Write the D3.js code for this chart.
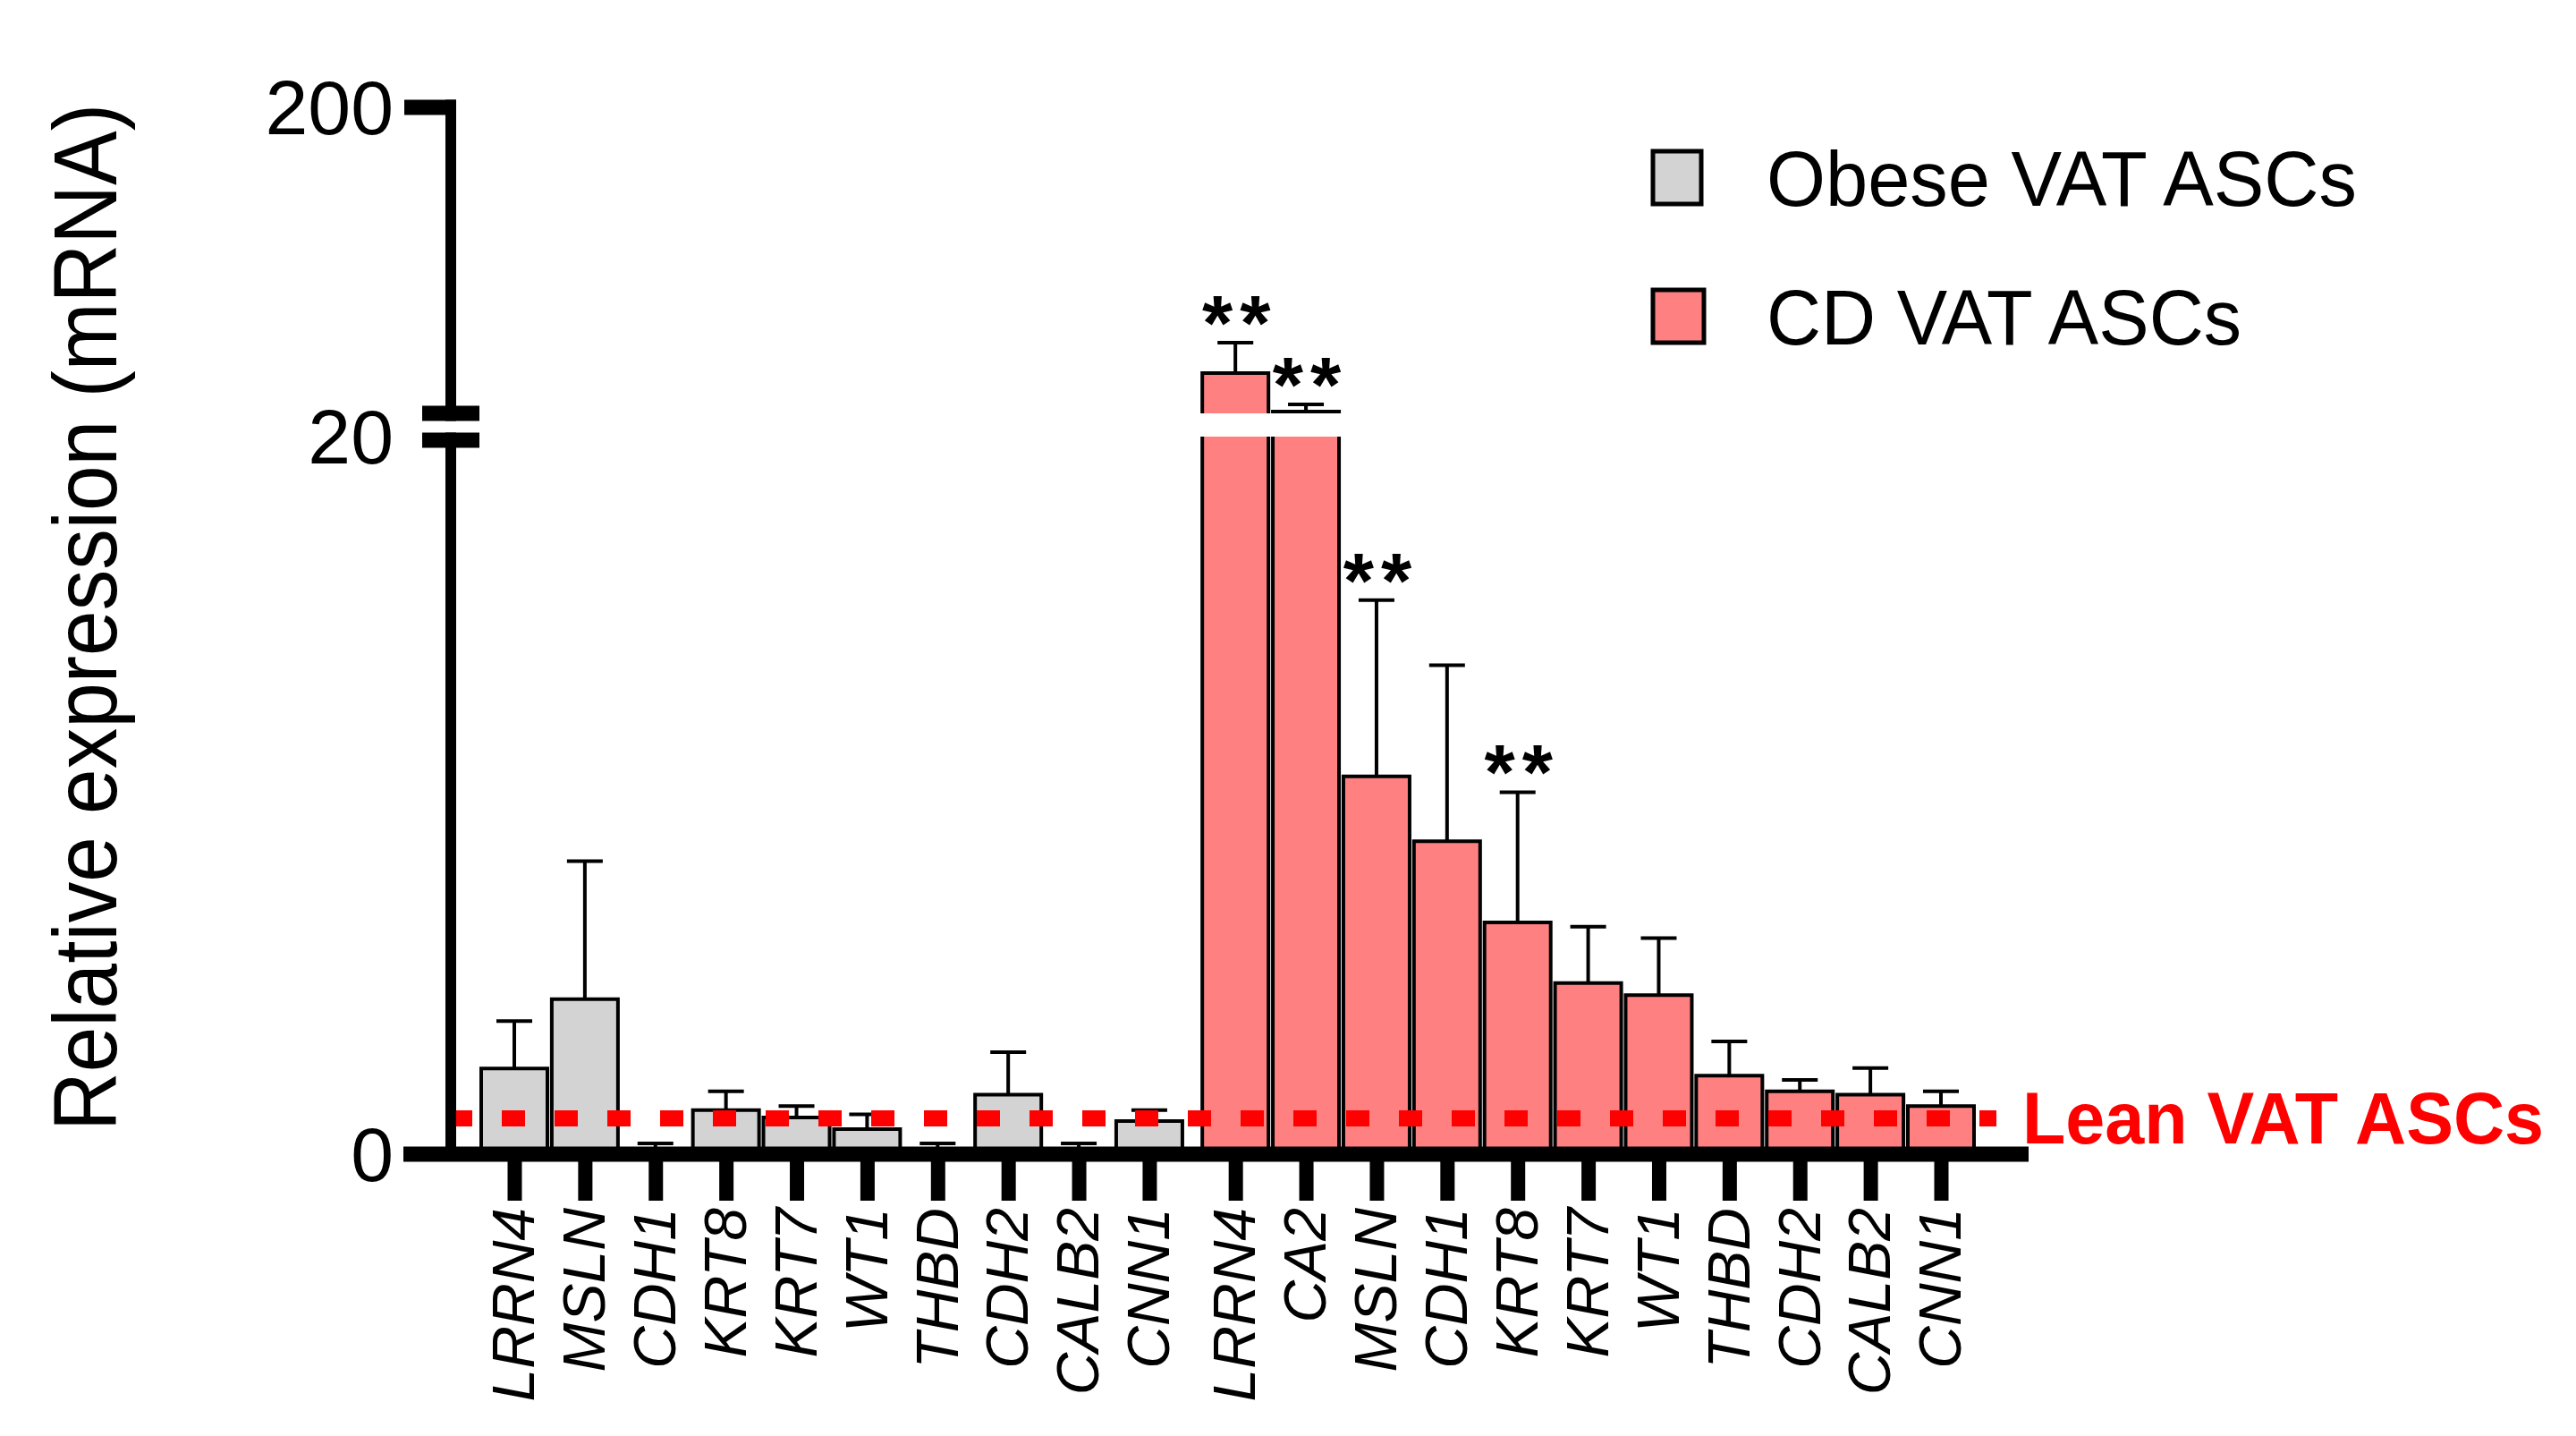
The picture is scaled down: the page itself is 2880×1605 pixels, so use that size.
<!DOCTYPE html>
<html>
<head>
<meta charset="utf-8">
<script src="https://cdn.jsdelivr.net/npm/d3@7"></script>
<style>
  body { margin: 0; background: #fff; }
  text { font-family: "Liberation Sans", Arial, sans-serif; }
</style>
</head>
<body>
<svg id="chart" width="2880" height="1605"></svg>
<script>
/* broken-axis bar chart, obese vs CD VAT ASCs */

const obeseGenes = ["LRRN4", "MSLN", "CDH1", "KRT8", "KRT7", "WT1", "THBD", "CDH2", "CALB2", "CNN1"]
const obeseMean = [2.39, 4.32, 0.1, 1.23, 1.02, 0.70, 0.1, 1.66, 0.1, 0.92]
const obeseSem = [1.32, 3.85, 0.2, 0.52, 0.32, 0.41, 0.2, 1.18, 0.2, 0.31]

const cdGenes = ["LRRN4", "CA2", "MSLN", "CDH1", "KRT8", "KRT7", "WT1", "THBD", "CDH2", "CALB2", "CNN1"]
const cdMean = [43.7, 21.0, 10.53, 8.72, 6.46, 4.77, 4.43, 2.19, 1.75, 1.66, 1.34]
const cdSem = [17.9, 4.3, 4.91, 4.91, 3.63, 1.57, 1.59, 0.95, 0.32, 0.74, 0.41]
const cdStars = ["LRRN4", "CA2", "MSLN", "KRT8"]

const yTicks = [0, 20, 200]
const leanLevel = 1
const seriesNames = ["Obese VAT ASCs", "CD VAT ASCs"]
const seriesColors = ["#d3d3d3", "#ff8080"]

const svg = d3.select("#chart")
svg.append("rect").attr("width", 2880).attr("height", 1605).attr("fill", "#fff")

// y axis in two linear pieces, broken at 20
const yLow = d3.scaleLinear().domain([0, 20]).range([1290, 488])
const yHigh = d3.scaleLinear().domain([20, 200]).range([462, 120])
const y = v => v <= 20 ? yLow(v) : yHigh(v)

const groupGap = 0.22
const bars = [
  ...obeseGenes.map((g, i) => ({ gene: g, mean: obeseMean[i], sem: obeseSem[i], pos: i, s: 0 })),
  ...cdGenes.map((g, i) => ({ gene: g, mean: cdMean[i], sem: cdSem[i], pos: obeseGenes.length + groupGap + i, s: 1, star: cdStars.includes(g) }))
]
const x = d3.scaleLinear().domain([0, d3.max(bars, d => d.pos)]).range([575, 2170])
const barW = 74
const y0 = yLow(0)

let barG = svg.append("g")
bars.forEach(d => {
  let cx = x(d.pos), l = cx - barW / 2, r = cx + barW / 2, top = y(d.mean)
  let outline
  if (d.mean <= 20) {
    barG.append("rect").attr("x", l).attr("y", top).attr("width", barW).attr("height", y0 - top)
      .attr("fill", seriesColors[d.s])
    outline = `M${l},${y0}V${top}H${r}V${y0}`
  } else {
    barG.append("rect").attr("x", l).attr("y", yLow(20)).attr("width", barW).attr("height", y0 - yLow(20))
      .attr("fill", seriesColors[d.s])
    barG.append("rect").attr("x", l).attr("y", top).attr("width", barW).attr("height", yHigh(20) - top)
      .attr("fill", seriesColors[d.s])
    outline = `M${l},${y0}V${yLow(20)}M${r},${y0}V${yLow(20)}M${l},${yHigh(20)}V${top}H${r}V${yHigh(20)}`
  }
  barG.append("path").attr("d", outline).attr("fill", "none").attr("stroke", "#000").attr("stroke-width", 4)

  // one-sided error bar
  let et = y(d.mean + d.sem)
  barG.append("path")
    .attr("d", `M${cx},${top}V${et}M${cx - 20},${et}H${cx + 20}`)
    .attr("fill", "none").attr("stroke", "#000").attr("stroke-width", 4)

  if (d.star) {
    barG.append("text").text("**")
      .attr("x", cx + 5).attr("y", et + 8)
      .attr("text-anchor", "middle")
      .attr("letter-spacing", 8)
      .style("font-size", "88px").style("font-weight", "bold")
  }
})

// lean reference line
svg.append("line")
  .attr("x1", 502).attr("x2", 2232)
  .attr("y1", yLow(leanLevel)).attr("y2", yLow(leanLevel))
  .attr("stroke", "#ff0000").attr("stroke-width", 18)
  .attr("stroke-dasharray", "26,33")

svg.append("text").text("Lean VAT ASCs")
  .attr("x", 2261).attr("y", 1278)
  .attr("fill", "#ff0000")
  .attr("textLength", 583).attr("lengthAdjust", "spacingAndGlyphs")
  .style("font-size", "82px").style("font-weight", "bold")

// x axis
svg.append("line").attr("x1", 451).attr("x2", 2268).attr("y1", y0).attr("y2", y0)
  .attr("stroke", "#000").attr("stroke-width", 17)

let xAxis = svg.append("g")
  .attr("transform", `translate(0,${y0})`)
  .call(d3.axisBottom(x).tickValues(bars.map(d => d.pos)).tickSize(52).tickFormat((p, i) => bars[i].gene))
xAxis.select(".domain").remove()
xAxis.selectAll(".tick line").attr("stroke", "#000").attr("stroke-width", 16)
xAxis.selectAll(".tick text")
  .attr("transform", "rotate(-90)")
  .attr("x", -60).attr("y", 0).attr("dy", "0.33em")
  .attr("text-anchor", "end")
  .attr("fill", "#000")
  .style("font-size", "66px").style("font-style", "italic")
  .style("font-family", "'Liberation Sans', Arial, sans-serif")

// y axis with break marks
let yAx = svg.append("g")
yAx.append("line").attr("x1", 504).attr("x2", 504)
  .attr("y1", yHigh(200) - 8.5).attr("y2", yHigh(20) + 8.5)
  .attr("stroke", "#000").attr("stroke-width", 12)
yAx.append("line").attr("x1", 504).attr("x2", 504)
  .attr("y1", yLow(20) + 4 - 8.5).attr("y2", y0)
  .attr("stroke", "#000").attr("stroke-width", 12)
yAx.selectAll("rect.brk").data([yHigh(20), yLow(20) + 4]).join("rect")
  .attr("class", "brk")
  .attr("x", 472).attr("width", 64)
  .attr("y", d => d - 8.5).attr("height", 17)
  .attr("fill", "#000")
yAx.append("line").attr("x1", 452).attr("x2", 510)
  .attr("y1", yHigh(200)).attr("y2", yHigh(200))
  .attr("stroke", "#000").attr("stroke-width", 17)
yAx.selectAll("text").data(yTicks).join("text")
  .text(d => d)
  .attr("x", 440).attr("y", d => y(d)).attr("dy", "0.35em")
  .attr("text-anchor", "end")
  .style("font-size", "86px")

svg.append("text").text("Relative expression (mRNA)")
  .attr("transform", "translate(130,690) rotate(-90)")
  .attr("text-anchor", "middle")
  .attr("textLength", 1148).attr("lengthAdjust", "spacingAndGlyphs")
  .style("font-size", "100px")

// legend
const legendY = [169, 324]
const legendW = [660, 531]
seriesNames.forEach((name, i) => {
  svg.append("rect")
    .attr("x", 1848).attr("y", legendY[i])
    .attr("width", i ? 57 : 54).attr("height", 59)
    .attr("fill", seriesColors[i]).attr("stroke", "#000").attr("stroke-width", 5)
  svg.append("text").text(name)
    .attr("x", 1975).attr("y", legendY[i] + 61)
    .attr("textLength", legendW[i]).attr("lengthAdjust", "spacingAndGlyphs")
    .style("font-size", "88px")
})
</script>
</body>
</html>
